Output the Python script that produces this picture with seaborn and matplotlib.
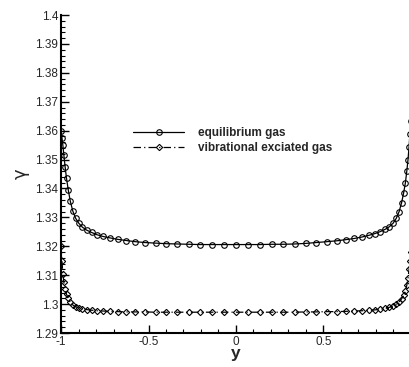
import matplotlib
matplotlib.use("Agg")
import matplotlib.pyplot as plt
import seaborn as sns
import pandas as pd
from matplotlib.ticker import MultipleLocator, FuncFormatter

y_pos = [-1.0, -0.995, -0.99, -0.984, -0.977, -0.969, -0.959, -0.947, -0.933, -0.917,
         -0.899, -0.878, -0.854, -0.826, -0.795, -0.76, -0.72, -0.676, -0.628, -0.576,
         -0.52, -0.46, -0.398, -0.335, -0.27, -0.204, -0.136, -0.068, 0.0,
         0.068, 0.136, 0.204, 0.27, 0.335, 0.398, 0.46, 0.52, 0.576, 0.628,
         0.676, 0.72, 0.76, 0.795, 0.826, 0.854, 0.878, 0.899, 0.917, 0.933,
         0.947, 0.959, 0.969, 0.977, 0.984, 0.99, 0.995, 1.0]

gamma_equilibrium = [1.3600, 1.3575, 1.3550, 1.3515, 1.3475, 1.3435, 1.3395, 1.3355, 1.3322, 1.3297,
                     1.3280, 1.3266, 1.3256, 1.3248, 1.3240, 1.3234, 1.3229, 1.3224, 1.3220, 1.3216,
                     1.3213, 1.3211, 1.3209, 1.3208, 1.3207, 1.3206, 1.3206, 1.3206, 1.3206,
                     1.3206, 1.3206, 1.3207, 1.3207, 1.3208, 1.3210, 1.3213, 1.3216, 1.3219, 1.3223,
                     1.3227, 1.3232, 1.3238, 1.3244, 1.3251, 1.3259, 1.3268, 1.3280, 1.3297, 1.3320,
                     1.3350, 1.3385, 1.3420, 1.3460, 1.3500, 1.3545, 1.3590, 1.3633]

gamma_vibrational = [1.3200, 1.3150, 1.3105, 1.3075, 1.3052, 1.3034, 1.3020, 1.3006, 1.2997, 1.2991,
                     1.2987, 1.2984, 1.2981, 1.2979, 1.2977, 1.2976, 1.2975, 1.2974, 1.2973, 1.2973,
                     1.2973, 1.2972, 1.2972, 1.2972, 1.2972, 1.2972, 1.2972, 1.2972, 1.2972,
                     1.2972, 1.2972, 1.2972, 1.2972, 1.2972, 1.2973, 1.2973, 1.2974, 1.2974, 1.2975,
                     1.2976, 1.2977, 1.2978, 1.2980, 1.2982, 1.2985, 1.2989, 1.2994, 1.3000, 1.3008,
                     1.3018, 1.3030, 1.3045, 1.3065, 1.3090, 1.3120, 1.3150, 1.3180]

series_labels = ["equilibrium gas", "vibrational exciated gas"]
x_ticks = [-1, -0.5, 0, 0.5, 1]
y_ticks = [1.29, 1.3, 1.31, 1.32, 1.33, 1.34, 1.35, 1.36, 1.37, 1.38, 1.39, 1.4]

sns.set_style("ticks")
plt.rcParams['font.family'] = ['Liberation Sans', 'DejaVu Sans']

df_eq = pd.DataFrame({"y": y_pos, "gamma": gamma_equilibrium})
df_vib = pd.DataFrame({"y": y_pos, "gamma": gamma_vibrational})

fig = plt.figure(figsize=(4.10, 3.67), dpi=100)
ax = fig.add_axes([0.149, 0.0926, 0.853, 0.8664])

sns.lineplot(data=df_eq, x="y", y="gamma", ax=ax, color="black", linewidth=0.9,
             marker="o", markersize=4.0, markerfacecolor="none", markeredgecolor="black",
             markeredgewidth=0.8, label=series_labels[0], sort=False)
sns.lineplot(data=df_vib, x="y", y="gamma", ax=ax, color="black", linewidth=0.9,
             linestyle=(0, (6, 2.5, 1, 2.5)),
             marker="D", markersize=3.2, markerfacecolor="none", markeredgecolor="black",
             markeredgewidth=0.8, label=series_labels[1], sort=False)

ax.set_xlim(-1, 1)
ax.set_ylim(1.29, 1.4)
ax.set_xticks(x_ticks)
ax.set_yticks(y_ticks)
fmt = FuncFormatter(lambda v, p: ("%g" % round(v, 4)))
ax.xaxis.set_major_formatter(fmt)
ax.yaxis.set_major_formatter(fmt)
ax.xaxis.set_minor_locator(MultipleLocator(0.1))
ax.yaxis.set_minor_locator(MultipleLocator(0.002))
ax.tick_params(which="major", direction="in", length=6, width=1.0, labelsize=8.5, pad=2, color="black")
ax.tick_params(which="minor", direction="in", length=3, width=0.8, color="black")

for s in ["top", "right"]:
    ax.spines[s].set_visible(False)
for s in ["left", "bottom"]:
    ax.spines[s].set_linewidth(1.5)
    ax.spines[s].set_color("black")

ax.set_xlabel("y", fontsize=12.5, fontweight="bold", labelpad=-1)
ax.set_ylabel("γ", fontsize=13, rotation=90, labelpad=4, family=["DejaVu Sans"])

leg = ax.legend(loc="upper left", bbox_to_anchor=(0.19, 0.667), frameon=False,
                handlelength=4.3, handletextpad=1.2, labelspacing=0.25,
                prop={"size": 8.5, "weight": "bold"}, borderpad=0)

fig.savefig("out.png", dpi=100)
